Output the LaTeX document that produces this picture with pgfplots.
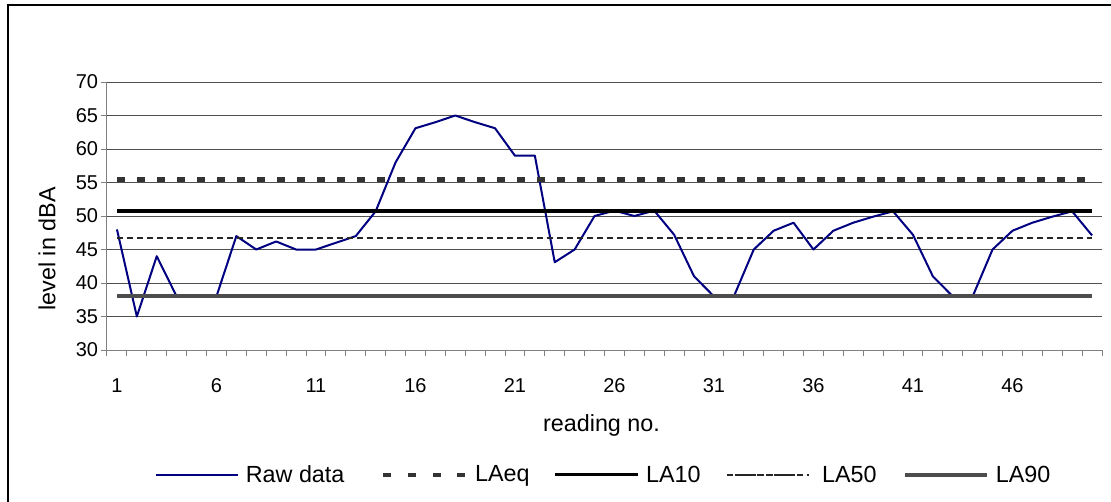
\documentclass[border=0pt]{standalone}
\usepackage{fontspec}
\setmainfont{Liberation Sans}
\usepackage{pgfplots}
\pgfplotsset{compat=1.18}
\definecolor{rawblue}{RGB}{0,0,128}
\definecolor{eqgray}{RGB}{51,51,51}
\definecolor{ninetygray}{RGB}{77,77,77}
\definecolor{gridc}{RGB}{80,80,80}
\definecolor{axc}{RGB}{128,128,128}
\pgfplotstableread{
x y
1 48
2 35
3 44
4 38
5 38
6 38
7 47
8 45
9 46.2
10 45
11 45
12 46
13 47
14 50.7
15 58
16 63.1
17 64
18 65
19 64
20 63.1
21 59
22 59
23 43.1
24 45
25 50
26 50.8
27 50
28 50.8
29 47.2
30 41
31 38
32 38
33 45
34 47.8
35 49
36 45
37 47.8
38 49
39 49.9
40 50.7
41 47.2
42 41
43 38
44 38
45 45
46 47.8
47 49
48 49.9
49 50.7
50 47.1
}\rawdata
\begin{document}
\begin{tikzpicture}[x=0.75pt,y=0.75pt]
\useasboundingbox (0,0) rectangle (1111,501);
\draw[black, line width=0.8pt] (8,496) rectangle (1130,-20);
\begin{axis}[
  at={(80.25pt,113.25pt)}, anchor=south west,
  scale only axis, width=746.25pt, height=201pt,
  xmin=0.5, xmax=50.5, ymin=30, ymax=70,
  axis lines*=left,
  axis line style={draw=axc, line width=0.75pt, -},
  tick align=outside,
  ytick={30,35,...,70},
  ymajorgrids=true,
  grid style={draw=gridc, line width=0.75pt},
  xtick={1,6,...,46},
  major x tick style={draw=none},
  minor xtick={0.5,1.5,...,50.5},
  minor tick length=4.5pt,
  major tick length=4.5pt,
  tick style={draw=axc, line width=0.75pt},
  /pgf/number format/assume math mode=true,
  ticklabel style={font=\fontsize{15}{17}\selectfont},
  xticklabel style={inner sep=0pt, anchor=north, yshift=-17pt},
  yticklabel style={inner sep=0pt, anchor=east, xshift=-2pt},
  xlabel={reading no.},
  ylabel={level in dBA},
  label style={font=\fontsize{17.5}{20}\selectfont},
  xlabel style={at={(axis description cs:0.497,-0.28)}, anchor=center, inner sep=0pt},
  ylabel style={at={(axis description cs:-0.0603,0.377)}, anchor=center, inner sep=0pt},
  legend style={at={(0.5,-0.466)}, anchor=center, draw=none, fill=none,
    legend columns=5, font=\fontsize{17.5}{20}\selectfont,
    /tikz/column 1/.style={column sep=2pt},
    /tikz/column 2/.style={column sep=24.5pt},
    /tikz/column 3/.style={column sep=2pt},
    /tikz/column 4/.style={column sep=15pt},
    /tikz/column 5/.style={column sep=2pt},
    /tikz/column 6/.style={column sep=16pt},
    /tikz/column 7/.style={column sep=6pt},
    /tikz/column 8/.style={column sep=16.5pt},
    /tikz/column 9/.style={column sep=2pt},
    nodes={inner sep=3pt}},
  legend image code/.code={\draw[#1] (0pt,0pt) -- (62pt,0pt);},
  clip=false,
]
\addplot[rawblue, line width=1.5pt, line join=round] table[x=x,y=y]{\rawdata};
\addlegendentry{Raw data}
\addplot[eqgray, line width=3.5pt, dash pattern=on 6pt off 9pt,
  legend image code/.code={\draw[eqgray, line width=3.5pt, dash pattern=on 6pt off 12.5pt] (0pt,0pt) -- (62pt,0pt);}]
  coordinates {(1,55.4) (50,55.4)};
\addlegendentry{LAeq}
\addplot[black, line width=2.4pt] coordinates {(1,50.75) (50,50.75)};
\addlegendentry{LA10}
\addplot[black!85, line width=1.1pt, dash pattern=on 4.5pt off 3pt,
  legend image code/.code={\path (0pt,0pt) -- (62pt,0pt);
    \draw[black!85, line width=1.1pt, dash pattern=on 3.9pt off 2pt] (6pt,0pt) -- (58pt,0pt);}]
  coordinates {(1,46.75) (50,46.75)};
\addlegendentry{LA50}
\addplot[ninetygray, line width=3pt] coordinates {(1,38) (50,38)};
\addlegendentry{LA90}
\end{axis}
\end{tikzpicture}
\end{document}
